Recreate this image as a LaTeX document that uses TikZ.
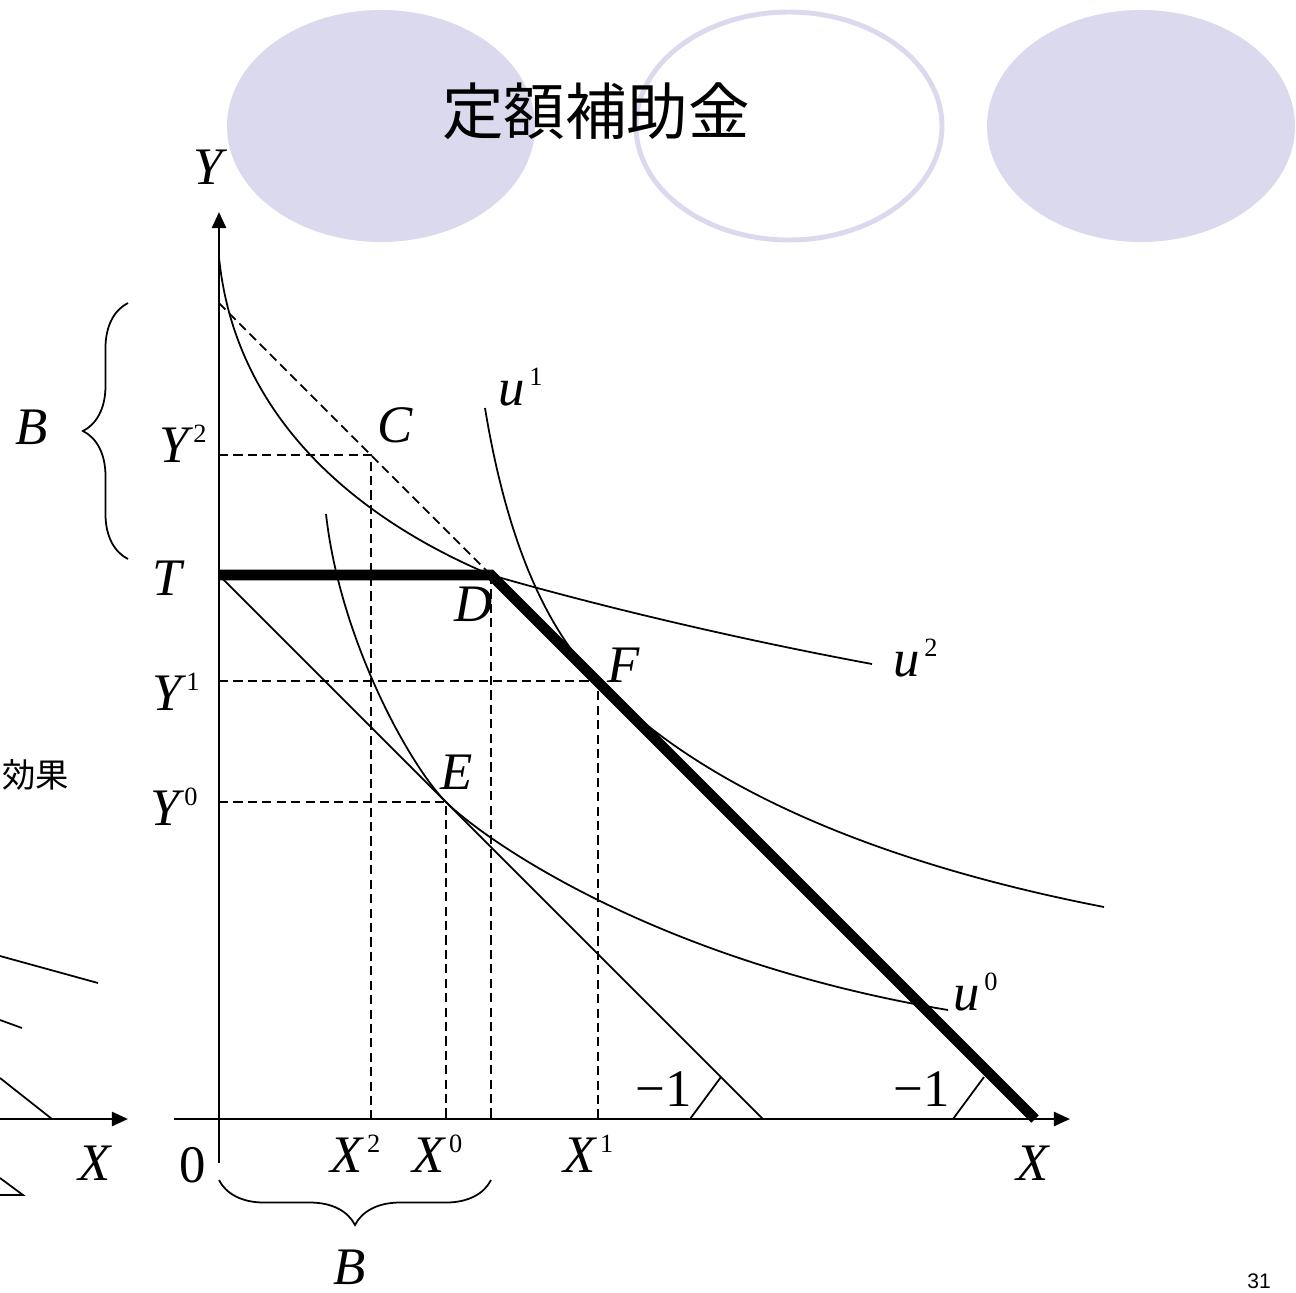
\documentclass[tikz,border=0pt]{standalone}
\usepackage{fontspec}
\setmainfont{Liberation Serif}
\newfontfamily\jpfont{Noto Sans CJK JP}
\newfontfamily\numfont{Liberation Sans}
\usetikzlibrary{arrows.meta,decorations.pathreplacing}
\definecolor{bubble}{RGB}{218,217,238}
\newcommand{\hi}[1]{\raisebox{5.6pt}{\fontsize{7.5}{8}\selectfont\upshape\kern1.2pt#1}}
\tikzset{lbl/.style={inner sep=0pt,font=\fontsize{15}{18}\selectfont\itshape},
  icurve/.style={line width=0.5pt},
  guide/.style={line width=0.5pt,dash pattern=on 2.6pt off 1.5pt},
  budget/.style={line width=3pt},
  axline/.style={line width=0.75pt},
  axarrow/.style={axline,-{Triangle[length=4.6pt,width=4pt]}},
  curly/.style={decorate,decoration={brace,amplitude=4.5mm},line width=0.5pt}}

\begin{document}
\begin{tikzpicture}[x=0.01cm,y=-0.01cm]
\useasboundingbox (0,0) rectangle (1296,1293);
\clip (0,0) rectangle (1296,1293);

% bubbles behind the title
\fill[bubble] (381,126) ellipse [x radius=154,y radius=116];
\filldraw[draw=bubble,fill=white,line width=1.4pt] (789,126) ellipse [x radius=153,y radius=114];
\fill[bubble] (1141,126) ellipse [x radius=154,y radius=116];
\node[inner sep=0pt,font=\jpfont\fontsize{17.5}{20}\selectfont] (title) at (596,111) {定額補助金};

% points
\coordinate (O) at (219,1119);
\coordinate (Ytop) at (219,212);
\coordinate (Ybot) at (219,1163);
\coordinate (Xbeg) at (174,1119);
\coordinate (Xtip) at (1070,1119);
\coordinate (T) at (219,575);
\coordinate (D) at (491,575);
\coordinate (Bt) at (219,303);
\coordinate (Xend) at (1035,1119);
\coordinate (Tx) at (763,1119);
\coordinate (C) at (371,455);
\coordinate (E) at (446,802);
\coordinate (F) at (598,681);
\coordinate (Y2) at (219,455);
\coordinate (Y1) at (219,681);
\coordinate (Y0) at (219,802);
\coordinate (X2) at (371,1119);
\coordinate (X0) at (446,1119);
\coordinate (X1) at (598,1119);
\coordinate (Dx) at (491,1119);
\coordinate (u2a) at (219,257);
\coordinate (u2b) at (872,664);
\coordinate (u1a) at (485,408);
\coordinate (u1b) at (1104,907);
\coordinate (u0a) at (326,514);
\coordinate (u0b) at (948,1010);

% axes
\draw[axarrow] (Ybot) -- (Ytop);
\draw[axarrow] (Xbeg) -- (Xtip);

% guides
\draw[guide] (Bt) -- (D);
\draw[guide] (Y2) -- (C) -- (X2);
\draw[guide] (Y1) -- (F) -- (X1);
\draw[guide] (Y0) -- (E) -- (X0);
\draw[guide] (D) -- (Dx);

% indifference curves
\draw[icurve] (u2a) .. controls (235,420) and (360,520) .. (D)
  .. controls (560,595) and (700,632) .. (u2b);
\draw[icurve] (u1a) .. controls (510,560) and (555,638) .. (F)
  .. controls (640,723) and (760,840) .. (u1b);
\draw[icurve] (u0a) .. controls (340,640) and (410,766) .. (E)
  .. controls (480,836) and (650,960) .. (u0b);

% budget lines
\draw[icurve] (T) -- (Tx);
\draw[budget] (T) -- (D) -- (Xend);
\coordinate (s1a) at (690,1119);
\coordinate (s1b) at (721,1077);
\coordinate (s2a) at (953,1119);
\coordinate (s2b) at (984,1077);
\draw[icurve] (s1a) -- (s1b);
\draw[icurve] (s2a) -- (s2b);

% braces
\draw[curly] (128,559) -- (128,303);
\draw[curly] (491,1180) -- (219,1180);

% labels
\node[lbl] (lY) at (208,167) {Y};
\node[lbl] (lBl) at (32,427) {B};
\node[lbl,anchor=base west] (lY2) at (159,462) {Y\hi{2}};
\node[lbl] (lT) at (167,578) {T};
\node[lbl,anchor=base west] (lY1) at (152,710) {Y\hi{1}};
\node[lbl,anchor=base west] (lY0) at (150,825) {Y\hi{0}};
\node[lbl] (lC) at (395,425) {C};
\node[lbl,anchor=base west] (lu1) at (498,405) {u\hi{1}};
\node[lbl] (lD) at (474,604) {D};
\node[lbl] (lF) at (624,665) {F};
\node[lbl,anchor=base west] (lu2) at (893,676) {u\hi{2}};
\node[lbl] (lE) at (457,772) {E};
\node[lbl,anchor=base west] (lu0) at (953,1010) {u\hi{0}};
\node[lbl,font=\fontsize{15}{18}\selectfont] (m1) at (664,1089) {−1};
\node[lbl,font=\fontsize{15}{18}\selectfont] (m2) at (922,1089) {−1};
\node[lbl,font=\fontsize{15}{18}\selectfont] (l0) at (193,1165) {0};
\node[lbl,anchor=base west] (lX2) at (330,1172) {X\hi{2}};
\node[lbl,anchor=base west] (lX0) at (412,1172) {X\hi{0}};
\node[lbl,anchor=base west] (lX1) at (563,1172) {X\hi{1}};
\node[lbl] (lX) at (1033,1163) {X};
\node[lbl] (lBb) at (350,1267) {B};

% left fragment of the previous figure
\coordinate (Lbeg) at (-5,1119);
\coordinate (Ltip) at (128,1119);
\draw[axarrow] (Lbeg) -- (Ltip);
\draw[icurve] (0,956) -- (98,983);
\draw[icurve] (0,1020) -- (22,1028);
\draw[icurve] (0,1078) -- (52,1119);
\draw[icurve] (0,1178) -- (23,1195) -- (0,1195);
\node[lbl] (lXl) at (95,1163) {X};
\node[inner sep=0pt,anchor=east,font=\jpfont\fontsize{9.5}{11}\selectfont] (eff) at (70,775) {効果};

% page number
\node[inner sep=0pt,font=\numfont\fontsize{6}{7}\selectfont] (pg) at (1259,1281) {31};
\end{tikzpicture}
\end{document}
